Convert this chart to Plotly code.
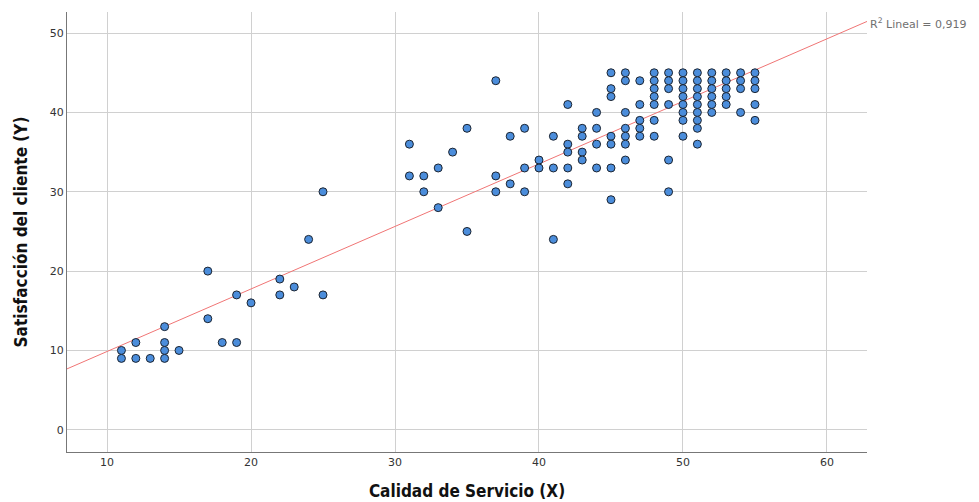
import numpy as np
import plotly.graph_objects as go

# Calidad de Servicio (X) scores, one list per column of points,
# with the Satisfacción del cliente (Y) values observed at that X.
x_values = [11, 12, 13, 14, 15, 17, 18, 19, 20, 22, 23, 24, 25,
            31, 32, 33, 34, 35, 37, 38, 39, 40, 41, 42, 43, 44,
            45, 46, 47, 48, 49, 50, 51, 52, 53, 54, 55]
y_by_x = [
    [10, 9],
    [11, 9],
    [9],
    [13, 11, 10, 9],
    [10],
    [20, 14],
    [11],
    [17, 11],
    [16],
    [19, 17],
    [18],
    [24],
    [30, 17],
    [36, 32],
    [32, 30],
    [33, 28],
    [35],
    [38, 25],
    [44, 32, 30],
    [37, 31],
    [38, 33, 30],
    [34, 33],
    [37, 33, 24],
    [41, 36, 35, 33, 31],
    [38, 37, 35, 34],
    [40, 38, 36, 33],
    [45, 43, 42, 37, 36, 33, 29],
    [45, 44, 40, 38, 37, 36, 34],
    [44, 41, 39, 38, 37],
    [45, 44, 43, 42, 41, 39, 37],
    [45, 44, 43, 41, 34, 30],
    [45, 44, 43, 42, 41, 40, 39, 37],
    [45, 44, 43, 42, 41, 40, 39, 38, 36],
    [45, 44, 43, 42, 41, 40],
    [45, 44, 43, 42, 41],
    [45, 44, 43, 40],
    [45, 44, 43, 41, 39],
]
r2_label = "R<sup>2</sup> Lineal = 0,919"

xs = np.array([x for x, ys in zip(x_values, y_by_x) for _ in ys], dtype=float)
ys = np.array([y for col in y_by_x for y in col], dtype=float)

x_range = [7.22, 62.78]
y_range = [-2.8, 52.66]

# Least-squares line across the full horizontal range
slope, intercept = np.polyfit(xs, ys, 1)
line_x = np.array(x_range)
line_y = intercept + slope * line_x

fig = go.Figure()
fig.add_trace(go.Scatter(
    x=line_x, y=line_y, mode="lines",
    line=dict(color="#f07575", width=1),
    hoverinfo="skip", showlegend=False, cliponaxis=False,
))
fig.add_trace(go.Scatter(
    x=xs, y=ys, mode="markers",
    marker=dict(symbol="circle", size=8, color="#4b8ddb",
                line=dict(color="#1c2430", width=1)),
    showlegend=False,
))

fig.add_annotation(
    x=x_range[1], y=line_y[1], xref="x", yref="y",
    text=r2_label, showarrow=False, xanchor="left", yanchor="middle",
    xshift=1, yshift=-2, font=dict(family="DejaVu Sans", size=11, color="#707070"),
)

tick_font = dict(family="DejaVu Sans", size=11, color="#333333")
title_font = dict(family="Liberation Sans Narrow, DejaVu Sans Condensed", size=17, color="#111111")

fig.update_xaxes(
    range=x_range, tickvals=[10, 20, 30, 40, 50, 60],
    showgrid=True, gridcolor="#d0d0d0", gridwidth=1.2,
    showline=True, linecolor="#777777", linewidth=1.2,
    zeroline=False, ticks="", tickfont=tick_font, automargin=False,
    title=dict(text="<b>Calidad de Servicio (X)</b>", font=title_font, standoff=16),
)
fig.update_yaxes(
    range=y_range, tickvals=[0, 10, 20, 30, 40, 50],
    showgrid=True, gridcolor="#d0d0d0", gridwidth=1.2,
    showline=True, linecolor="#777777", linewidth=1.2,
    zeroline=False, ticks="", tickfont=tick_font, automargin=False,
    title=dict(text="<b>Satisfacción del cliente (Y)</b>", font=title_font, standoff=17),
)

fig.update_layout(
    width=979, height=502,
    margin=dict(l=67, r=112, t=12, b=50),
    plot_bgcolor="white", paper_bgcolor="white",
)

fig.write_html("out.html")
